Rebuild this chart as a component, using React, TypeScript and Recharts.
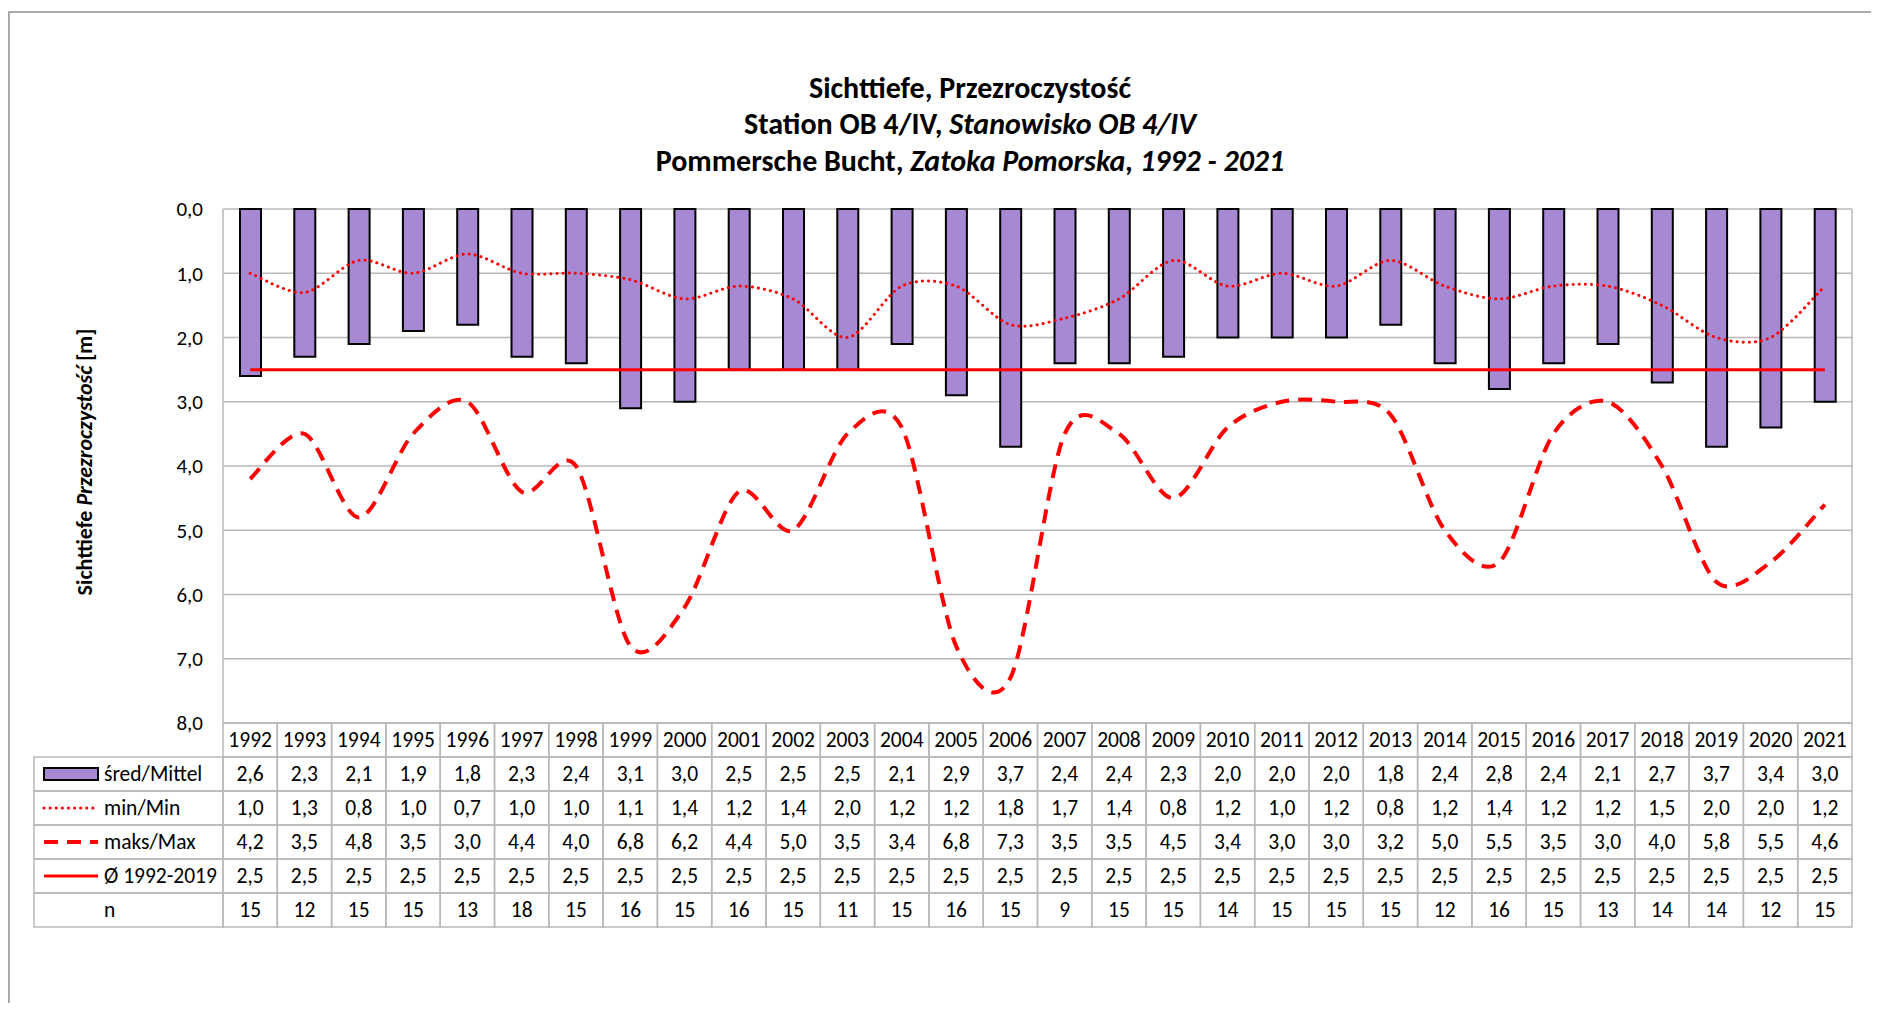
import React from 'react';
import { ComposedChart, Bar, Line, XAxis, YAxis, CartesianGrid } from 'recharts';

const years = [
  1992, 1993, 1994, 1995, 1996, 1997, 1998, 1999, 2000, 2001,
  2002, 2003, 2004, 2005, 2006, 2007, 2008, 2009, 2010, 2011,
  2012, 2013, 2014, 2015, 2016, 2017, 2018, 2019, 2020, 2021,
];
const mittelValues = [
  2.6, 2.3, 2.1, 1.9, 1.8, 2.3, 2.4, 3.1, 3.0, 2.5,
  2.5, 2.5, 2.1, 2.9, 3.7, 2.4, 2.4, 2.3, 2.0, 2.0,
  2.0, 1.8, 2.4, 2.8, 2.4, 2.1, 2.7, 3.7, 3.4, 3.0,
];
const minValues = [
  1.0, 1.3, 0.8, 1.0, 0.7, 1.0, 1.0, 1.1, 1.4, 1.2,
  1.4, 2.0, 1.2, 1.2, 1.8, 1.7, 1.4, 0.8, 1.2, 1.0,
  1.2, 0.8, 1.2, 1.4, 1.2, 1.2, 1.5, 2.0, 2.0, 1.2,
];
const maxValues = [
  4.2, 3.5, 4.8, 3.5, 3.0, 4.4, 4.0, 6.8, 6.2, 4.4,
  5.0, 3.5, 3.4, 6.8, 7.3, 3.5, 3.5, 4.5, 3.4, 3.0,
  3.0, 3.2, 5.0, 5.5, 3.5, 3.0, 4.0, 5.8, 5.5, 4.6,
];
const avgValues = [
  2.5, 2.5, 2.5, 2.5, 2.5, 2.5, 2.5, 2.5, 2.5, 2.5,
  2.5, 2.5, 2.5, 2.5, 2.5, 2.5, 2.5, 2.5, 2.5, 2.5,
  2.5, 2.5, 2.5, 2.5, 2.5, 2.5, 2.5, 2.5, 2.5, 2.5,
];
const counts = [
  15, 12, 15, 15, 13, 18, 15, 16, 15, 16,
  15, 11, 15, 16, 15, 9, 15, 15, 14, 15,
  15, 15, 12, 16, 15, 13, 14, 14, 12, 15,
];
const yTicks = [0, 1, 2, 3, 4, 5, 6, 7, 8];

const data = years.map((year, i) => ({
  year: String(year),
  mittel: mittelValues[i],
  min: minValues[i],
  max: maxValues[i],
  avg: avgValues[i],
  n: counts[i],
}));

const FONT = 'Carlito, Lato, "Open Sans", sans-serif';
const CHART_W = 1860;
const CHART_H = 995;
const MARGIN = { top: 201, right: 16, bottom: 70, left: 0 };
const Y_AXIS_W = 215;
const X_AXIS_H = 210;
const PLOT_W = CHART_W - MARGIN.left - MARGIN.right - Y_AXIS_W;
const COL_W = PLOT_W / years.length;
const ROW_H = 34;
const TABLE_LEFT = 26;
const TABLE_FONT = 21.5;
const GRID = '#B8B8B8';
const RED = '#FF0000';
const PURPLE = '#A688D3';

const fmt = (v: number) => v.toFixed(1).replace('.', ',');

type RowKey = 'mittel' | 'min' | 'max' | 'avg' | 'n';
const tableRows: { key: RowKey; label: string }[] = [
  { key: 'mittel', label: 'śred/Mittel' },
  { key: 'min', label: 'min/Min' },
  { key: 'max', label: 'maks/Max' },
  { key: 'avg', label: 'Ø 1992-2019' },
  { key: 'n', label: 'n' },
];

// Excel-style smoothed line (cardinal spline)
function excelCurve(context: any) {
  let pts: [number, number][] = [];
  const k = 1 / 6.6;
  return {
    areaStart() {},
    areaEnd() {},
    lineStart() { pts = []; },
    point(x: number, y: number) { pts.push([+x, +y]); },
    lineEnd() {
      if (!pts.length) return;
      context.moveTo(pts[0][0], pts[0][1]);
      for (let i = 0; i < pts.length - 1; i++) {
        const p0 = pts[i - 1] || pts[i];
        const p1 = pts[i];
        const p2 = pts[i + 1];
        const p3 = pts[i + 2] || p2;
        context.bezierCurveTo(
          p1[0] + (p2[0] - p0[0]) * k, p1[1] + (p2[1] - p0[1]) * k,
          p2[0] - (p3[0] - p1[0]) * k, p2[1] - (p3[1] - p1[1]) * k,
          p2[0], p2[1],
        );
      }
    },
  };
}

function LegendSwatch({ k, y }: { k: RowKey; y: number }) {
  const x1 = TABLE_LEFT + 10;
  const x2 = TABLE_LEFT + 64;
  if (k === 'mittel') {
    return <rect x={x1} y={y - 6} width={x2 - x1} height={12} fill={PURPLE} stroke="#000" strokeWidth={2} />;
  }
  if (k === 'min') {
    return <line x1={x1} x2={x2} y1={y} y2={y} stroke={RED} strokeWidth={3} strokeDasharray="0.1 6" strokeLinecap="round" />;
  }
  if (k === 'max') {
    return <line x1={x1} x2={x2} y1={y} y2={y} stroke={RED} strokeWidth={4} strokeDasharray="14 9" />;
  }
  if (k === 'avg') {
    return <line x1={x1} x2={x2} y1={y} y2={y} stroke={RED} strokeWidth={3} />;
  }
  return null;
}

function TableTick(props: any) {
  const { x, y, payload } = props;
  const i: number = props.index ?? payload.index;
  const d = data[i];
  const left = x - COL_W / 2;
  const textProps = {
    textAnchor: 'middle' as const,
    dominantBaseline: 'central' as const,
    fontSize: TABLE_FONT,
    fill: '#000',
    fontFamily: FONT,
  };
  return (
    <g>
      <rect x={left} y={y} width={COL_W} height={ROW_H} fill="none" stroke={GRID} strokeWidth={1.5} />
      <text x={x} y={y + ROW_H / 2} {...textProps}>{payload.value}</text>
      {tableRows.map((r, k) => {
        const ry = y + ROW_H * (k + 1);
        const v = d[r.key];
        return (
          <g key={r.key}>
            <rect x={left} y={ry} width={COL_W} height={ROW_H} fill="none" stroke={GRID} strokeWidth={1.5} />
            <text x={x} y={ry + ROW_H / 2} {...textProps}>{r.key === 'n' ? String(v) : fmt(v)}</text>
          </g>
        );
      })}
      {i === 0 &&
        tableRows.map((r, k) => {
          const ry = y + ROW_H * (k + 1);
          return (
            <g key={'lg' + r.key}>
              <rect x={TABLE_LEFT} y={ry} width={left - TABLE_LEFT} height={ROW_H} fill="none" stroke={GRID} strokeWidth={1.5} />
              <LegendSwatch k={r.key} y={ry + ROW_H / 2} />
              <text x={TABLE_LEFT + 70} y={ry + ROW_H / 2} dominantBaseline="central" fontSize={TABLE_FONT} fill="#000" fontFamily={FONT}>
                {r.label}
              </text>
            </g>
          );
        })}
    </g>
  );
}

export default function App() {
  return (
    <div style={{ position: 'relative', width: CHART_W, height: CHART_H, fontFamily: FONT }}>
      <div
        style={{
          position: 'absolute', left: 0, top: 3, width: 1863, height: 992, boxSizing: 'border-box',
          borderLeft: '2px solid #ABABAB', borderTop: '2px solid #ABABAB',
        }}
      />
      <div style={{ position: 'absolute', left: 0, top: 0 }}>
        <ComposedChart width={CHART_W} height={CHART_H} data={data} margin={MARGIN} barSize={21}>
          <CartesianGrid
            stroke={GRID}
            strokeWidth={1.5}
            verticalCoordinatesGenerator={({ offset }: any) => [offset.left, offset.left + offset.width]}
          />
          <XAxis
            dataKey="year"
            height={X_AXIS_H}
            interval={0}
            axisLine={false}
            tickLine={false}
            tickSize={0}
            tickMargin={0}
            tick={(p: any) => <TableTick {...p} />}
          />
          <YAxis
            type="number"
            domain={[0, 8]}
            ticks={yTicks}
            reversed
            width={Y_AXIS_W}
            axisLine={false}
            tickLine={false}
            tickSize={0}
            tickMargin={20}
            tickFormatter={fmt}
            tick={{ fontSize: 21, fill: '#000', fontFamily: FONT }}
          />
          <Bar dataKey="mittel" fill={PURPLE} stroke="#000" strokeWidth={2} isAnimationActive={false} />
          <Line
            dataKey="min"
            type={excelCurve as any}
            stroke={RED}
            strokeWidth={3}
            strokeDasharray="0.1 6"
            strokeLinecap="round"
            dot={false}
            activeDot={false}
            isAnimationActive={false}
          />
          <Line
            dataKey="max"
            type={excelCurve as any}
            stroke={RED}
            strokeWidth={4}
            strokeDasharray="14 9"
            dot={false}
            activeDot={false}
            isAnimationActive={false}
          />
          <Line
            dataKey="avg"
            type="linear"
            stroke={RED}
            strokeWidth={3}
            dot={false}
            activeDot={false}
            isAnimationActive={false}
          />
        </ComposedChart>
      </div>
      <svg
        width={CHART_W}
        height={CHART_H}
        style={{ position: 'absolute', left: 0, top: 0, pointerEvents: 'none' }}
        fontFamily={FONT}
      >
        <g fontWeight="bold" fontSize={30} textAnchor="middle" fill="#000">
          <text x={962} y={90}>Sichttiefe, Przezroczystość</text>
          <text x={962} y={126}>
            Station OB 4/IV, <tspan fontStyle="italic">Stanowisko OB 4/IV</tspan>
          </text>
          <text x={962} y={163}>
            Pommersche Bucht, <tspan fontStyle="italic">Zatoka Pomorska,  1992 - 2021</tspan>
          </text>
        </g>
        <text
          transform="translate(84 454) rotate(-90)"
          textAnchor="middle"
          fontWeight="bold"
          fontSize={22}
          fill="#000"
        >
          Sichttiefe <tspan fontStyle="italic">Przezroczystość</tspan> [m]
        </text>
      </svg>
    </div>
  );
}
